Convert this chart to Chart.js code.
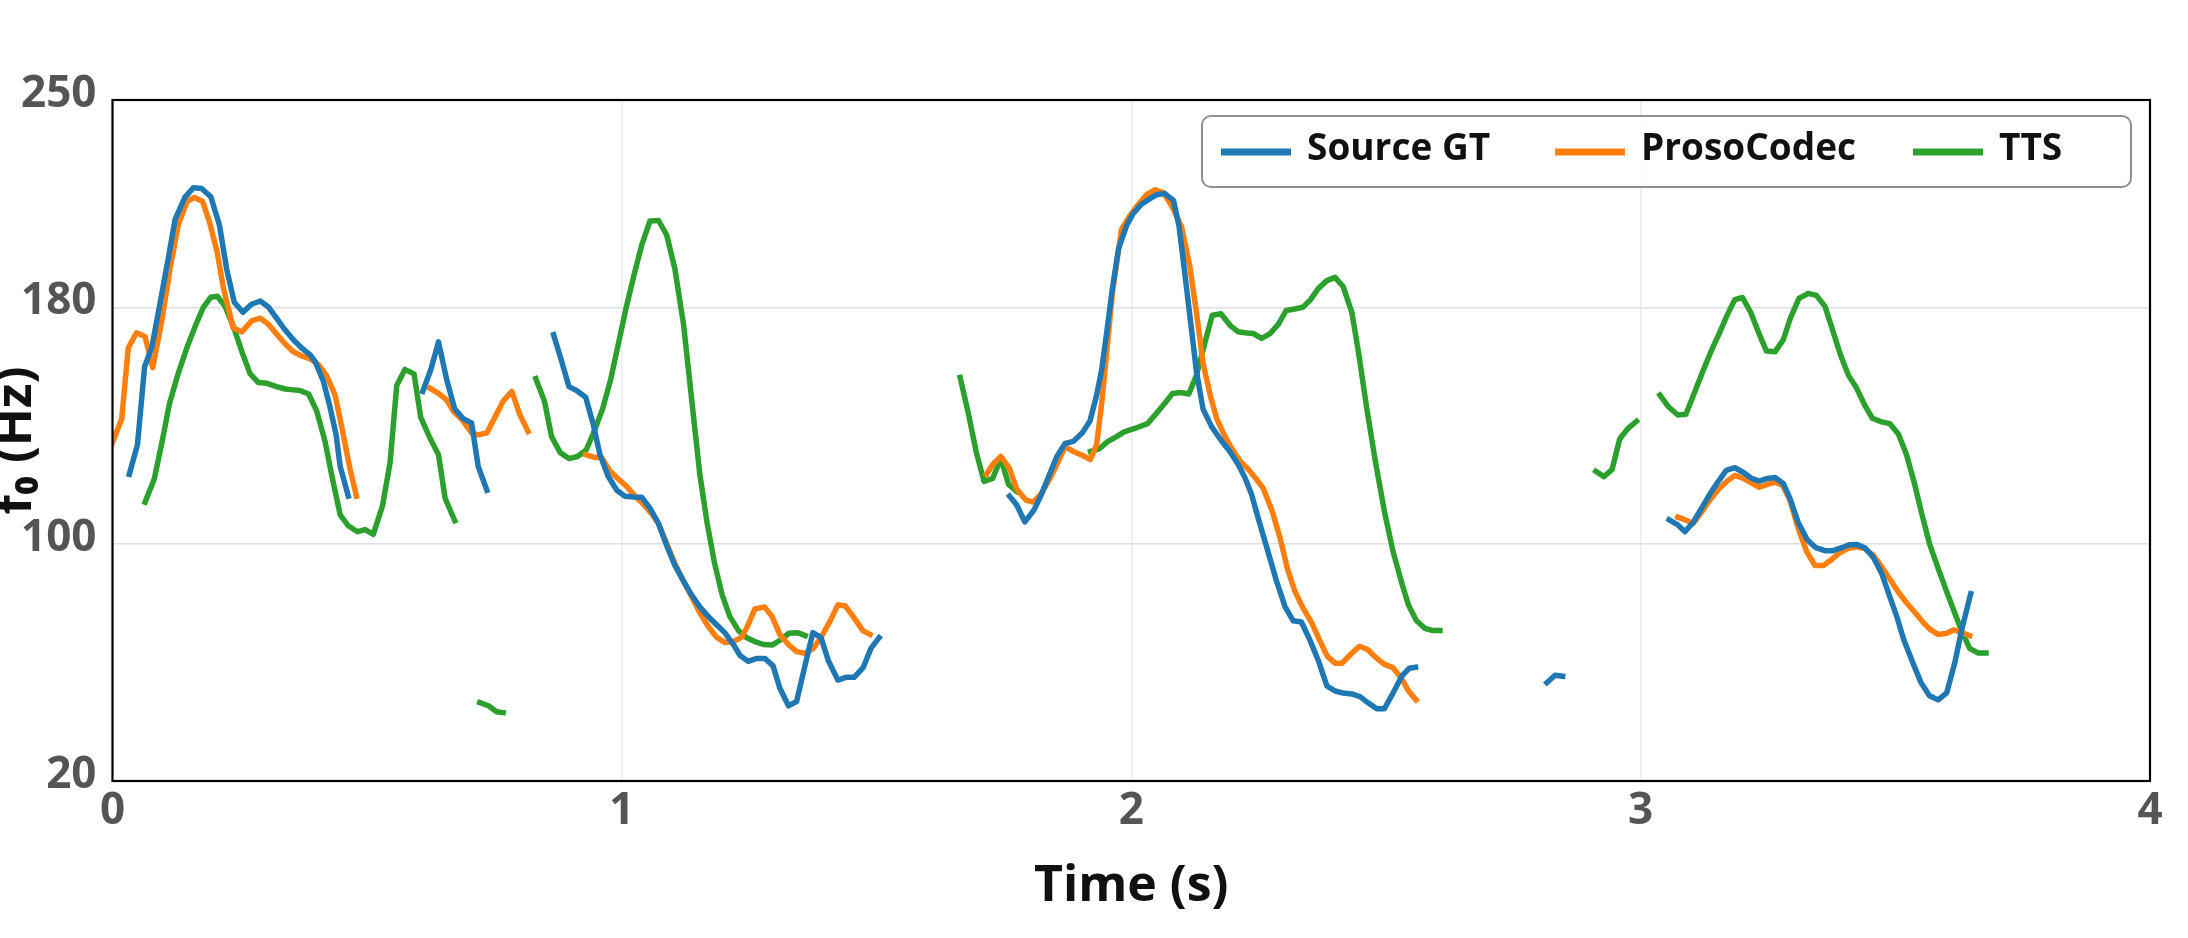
<!DOCTYPE html>
<html>
<head>
<meta charset="utf-8">
<script src="https://cdn.jsdelivr.net/npm/chart.js@4.4.1/dist/chart.umd.min.js"></script>
<style>
    html, body { margin: 0; padding: 0; background: #fff; }
    #wrap { width: 2188px; height: 938px; position: relative; }
</style>
</head>
<body>
<div id="wrap"><canvas id="f0Chart"></canvas></div>
<script>
// Time (s) and f0 (Hz) for each track; a null f0 marks an unvoiced gap
const gtTime = [
    0.033,0.049,0.063,0.077,0.093,0.110,0.123,0.142,0.159,0.175,0.193,0.210,0.224,0.239,0.256,
    0.273,0.290,0.306,0.322,0.339,0.355,0.371,0.388,0.398,0.414,0.427,0.439,0.447,0.463,
    0.54,
    0.609,0.625,0.640,0.656,0.672,0.689,0.705,0.718,0.735,
    0.80,
    0.866,0.882,0.896,0.911,0.929,0.944,0.957,0.973,0.990,1.006,1.023,1.039,1.055,1.072,1.088,
    1.104,1.121,1.137,1.153,1.170,1.186,1.202,1.219,1.232,1.248,1.265,1.281,1.297,1.310,1.327,
    1.343,1.360,1.375,1.391,1.405,1.424,1.440,1.456,1.474,1.489,1.505,
    1.60,
    1.761,1.775,1.791,1.809,1.824,1.838,1.854,1.870,1.886,1.904,1.919,1.932,1.942,1.952,1.963,
    1.975,1.991,2.004,2.020,2.037,2.051,2.066,2.083,2.094,2.105,2.117,2.128,2.141,2.158,2.177,
    2.194,2.210,2.223,2.236,2.249,2.266,2.284,2.302,2.318,2.334,2.351,2.367,2.384,2.400,2.416,
    2.433,2.449,2.465,2.482,2.497,2.513,2.531,2.546,2.558,
    2.70,
    2.816,2.832,2.847,
    2.95,
    3.056,3.073,3.087,3.103,3.120,3.136,3.153,3.168,3.185,3.202,3.218,3.233,3.249,3.264,3.280,
    3.293,3.309,3.327,3.344,3.362,3.378,3.395,3.409,3.424,3.440,3.457,3.473,3.488,3.503,3.517,
    3.534,3.550,3.567,3.584,3.601,3.617,3.630,3.648
];
const gtF0 = [
    123.6,133.6,159.9,166.3,181.0,197.0,209.7,217.1,220.4,220.1,217.3,207.7,193.0,181.7,178.3,
    181.0,182.1,180.1,176.3,172.3,169.0,166.3,163.9,161.6,155.0,146.3,136.9,126.2,116.2,
    null,
    151.6,159.0,168.3,155.6,145.6,142.3,140.9,126.2,118.2,
    null,
    170.7,161.6,153.2,151.9,149.6,140.3,130.2,122.9,118.2,116.2,115.9,115.8,112.2,106.9,99.5,
    92.8,87.5,82.8,78.8,75.5,72.8,70.1,66.1,62.4,60.4,61.4,61.4,58.8,51.4,45.4,
    46.8,59.4,70.1,68.4,60.8,54.1,55.0,55.0,58.4,64.8,68.4,
    null,
    116.2,113.3,107.5,111.5,116.9,122.9,129.6,134.0,134.7,137.6,141.6,150.3,159.0,171.7,186.3,
    199.7,207.7,211.7,214.8,216.7,218.1,218.4,216.1,207.1,191.7,174.3,158.3,145.6,139.6,134.9,
    131.2,126.9,122.5,116.9,108.9,98.9,88.2,78.8,74.1,73.7,67.5,60.8,52.1,50.4,49.7,
    49.4,48.5,46.4,44.4,44.4,49.4,55.4,58.1,58.4,
    null,
    53.2,55.7,55.4,
    null,
    108.2,106.5,104.2,107.3,112.2,116.9,121.3,124.9,125.8,124.2,122.2,121.3,122.2,122.5,120.5,
    115.5,107.5,101.5,98.8,97.8,97.8,98.8,99.8,99.9,98.8,95.5,90.2,82.8,75.5,67.5,
    60.1,53.4,48.8,47.4,49.8,60.1,70.8,83.2
];

const codecTime = [
    0.000,0.018,0.031,0.047,0.064,0.079,0.097,0.113,0.129,0.146,0.161,0.177,0.191,0.205,0.218,
    0.237,0.254,0.273,0.290,0.306,0.322,0.339,0.355,0.371,0.388,0.404,0.420,0.437,0.450,0.466,0.479,
    0.55,
    0.623,0.640,0.656,0.669,0.685,0.705,0.718,0.735,0.751,0.767,0.784,0.800,0.816,
    0.87,
    0.929,0.946,0.960,0.977,0.993,1.009,1.026,1.042,1.059,1.072,1.088,1.104,1.121,1.137,1.153,
    1.170,1.186,1.202,1.219,1.235,1.248,1.261,1.280,1.295,1.310,1.327,1.343,1.360,1.376,1.392,
    1.409,1.424,1.439,1.456,1.473,1.487,
    1.60,
    1.716,1.728,1.744,1.761,1.775,1.793,1.808,1.824,1.840,1.855,1.870,1.886,1.904,1.920,1.932,
    1.942,1.952,1.963,1.981,1.998,2.014,2.030,2.047,2.063,2.079,2.099,2.115,2.128,2.141,2.155,
    2.168,2.184,2.200,2.213,2.230,2.243,2.259,2.276,2.292,2.307,2.321,2.336,2.354,2.370,2.385,
    2.400,2.414,2.431,2.448,2.464,2.480,2.497,2.513,2.530,2.544,2.559,
    2.80,
    3.073,3.088,3.103,3.120,3.136,3.153,3.169,3.185,3.202,3.218,3.233,3.249,3.264,3.279,3.293,
    3.309,3.326,3.342,3.359,3.375,3.391,3.408,3.424,3.440,3.457,3.473,3.489,3.506,3.522,3.539,
    3.555,3.569,3.584,3.601,3.615,3.630,3.646
];
const codecF0 = [
    134.3,142.3,166.3,171.4,170.1,159.6,175.7,193.0,207.7,215.7,217.1,215.7,208.4,199.0,186.3,
    173.0,171.7,175.4,176.3,174.3,171.0,167.6,165.0,163.6,162.6,160.7,157.0,150.3,139.6,125.6,116.2,
    null,
    152.7,150.9,148.7,144.9,142.3,137.6,136.9,137.6,142.9,148.3,151.6,143.6,138.0,
    null,
    130.2,129.3,129.3,124.6,122.0,119.6,116.2,113.5,110.2,106.9,100.2,93.5,87.5,82.2,76.8,
    72.1,68.5,66.8,67.1,68.5,72.8,78.1,78.8,75.5,69.5,66.1,63.7,63.1,64.8,68.8,
    74.1,79.5,79.1,75.1,70.8,69.5,
    null,
    123.6,126.9,129.6,125.6,118.6,114.9,114.2,117.2,122.0,127.2,132.9,131.3,130.0,128.6,133.6,
    147.6,165.0,185.0,206.4,211.1,214.8,218.0,219.7,218.7,214.4,207.1,193.7,178.3,161.0,150.3,
    142.3,136.3,131.6,128.2,125.2,122.5,118.9,111.5,102.2,91.5,84.2,78.8,73.5,67.5,62.1,
    59.8,59.8,62.8,65.5,64.4,61.7,59.4,58.4,54.8,50.5,47.4,
    null,
    109.1,108.2,106.9,110.9,114.9,118.5,121.2,123.2,122.2,120.6,119.2,120.2,120.9,119.8,114.9,
    105.5,97.5,92.8,92.8,94.8,97.1,98.6,99.1,98.5,96.2,92.4,88.2,83.8,80.2,76.8,
    73.5,71.1,69.5,69.9,71.1,70.1,69.1
];

const ttsTime = [
    0.064,0.082,0.097,0.112,0.129,0.146,0.162,0.178,0.193,0.206,0.221,0.237,0.254,0.270,0.286,
    0.303,0.322,0.339,0.355,0.368,0.385,0.401,0.417,0.430,0.447,0.463,0.481,0.496,0.512,0.530,
    0.545,0.558,0.574,0.592,0.605,0.622,0.640,0.653,0.672,
    0.70,
    0.721,0.738,0.754,0.767,
    0.80,
    0.831,0.848,0.862,0.879,0.896,0.913,0.930,0.946,0.962,0.978,0.993,1.009,1.025,1.039,1.055,
    1.072,1.088,1.104,1.121,1.137,1.153,1.167,1.182,1.197,1.212,1.229,1.245,1.261,1.278,1.295,
    1.312,1.328,1.345,1.360,
    1.50,
    1.664,1.680,1.696,1.711,1.728,1.744,1.759,1.775,
    1.85,
    1.920,1.937,1.953,1.971,1.986,2.004,2.032,2.050,2.066,2.081,2.097,2.113,2.128,2.143,2.159,
    2.176,2.194,2.210,2.227,2.240,2.256,2.272,2.289,2.304,2.321,2.338,2.352,2.367,2.384,2.400,
    2.416,2.433,2.446,2.462,2.479,2.498,2.514,2.530,2.544,2.560,2.577,2.593,2.606,
    2.80,
    2.912,2.928,2.944,2.959,2.976,2.992,
    3.02,
    3.038,3.054,3.073,3.089,3.105,3.122,3.138,3.154,3.169,3.185,3.200,3.216,3.231,3.247,3.264,
    3.280,3.294,3.311,3.329,3.345,3.362,3.378,3.393,3.408,3.424,3.440,3.455,3.473,3.489,3.506,
    3.522,3.537,3.552,3.567,3.582,3.599,3.615,3.630,3.646,3.663,3.678
];
const ttsF0 = [
    114.2,122.0,134.3,147.6,157.6,166.3,173.4,179.9,183.4,183.7,180.3,173.7,165.0,157.6,154.6,
    154.3,153.2,152.4,152.1,151.9,150.7,144.9,134.9,123.6,109.9,106.2,104.2,104.9,103.3,112.9,
    127.6,153.6,159.0,157.5,142.9,136.3,130.2,115.5,107.9,
    null,
    46.5,45.4,43.4,43.1,
    null,
    155.9,148.3,136.3,130.9,128.9,129.6,131.8,138.3,145.6,155.6,167.6,180.3,191.7,201.0,209.1,
    209.3,204.4,193.0,174.3,148.9,123.6,107.5,93.5,82.8,75.5,70.8,68.4,67.1,66.1,65.9,
    67.7,69.9,70.1,69.1,
    null,
    156.3,144.3,130.9,121.2,122.2,128.9,120.2,117.8,
    null,
    131.3,132.2,134.5,136.3,137.9,138.9,140.7,144.3,147.6,150.9,151.2,150.7,157.0,167.0,177.3,
    177.8,173.9,171.7,171.3,171.1,169.5,171.0,174.3,178.9,179.4,180.1,182.6,186.3,189.0,190.1,
    187.0,178.3,165.0,146.3,128.2,110.2,97.5,87.5,79.5,74.1,71.5,70.8,70.8,
    null,
    124.6,122.8,125.2,135.6,139.2,141.5,
    null,
    150.3,146.5,143.6,143.9,150.9,158.3,165.0,171.0,177.0,182.6,183.3,178.3,171.7,165.2,165.0,
    169.0,176.3,183.0,184.7,184.0,180.3,171.7,163.6,157.0,152.7,146.9,142.5,141.3,140.7,137.2,
    130.2,120.9,110.2,100.2,92.8,84.8,77.5,70.8,64.8,63.2,63.2
];

const seriesLabels = ['Source GT', 'ProsoCodec', 'TTS'];
const xTicks = [0, 1, 2, 3, 4];
const yTicks = [20, 100, 180, 250];

const colors = ['#1f77b4', '#ff7f0e', '#2ca02c'];

function toPoints(times, values) {
    return times.map((t, i) => ({ x: t, y: values[i] }));
}

// Plot frame and the boxed legend inside the top-right corner
const frameAndLegend = {
    id: 'frameAndLegend',
    afterDraw(chart) {
        const { ctx, chartArea } = chart;
        ctx.save();
        ctx.strokeStyle = '#000';
        ctx.lineWidth = 2.2;
        ctx.strokeRect(chartArea.left, chartArea.top, chartArea.width, chartArea.height);

        const w = 929, h = 71;
        const x0 = chartArea.right - 19 - w;
        const y0 = chartArea.top + 16;
        ctx.beginPath();
        ctx.roundRect(x0, y0, w, h, 9);
        ctx.fillStyle = 'rgba(255,255,255,0.85)';
        ctx.fill();
        ctx.strokeStyle = '#8f8f8f';
        ctx.lineWidth = 2;
        ctx.stroke();

        const offsets = [19, 353, 711];
        ctx.font = 'bold 37px "Open Sans"';
        ctx.textBaseline = 'alphabetic';
        ctx.textAlign = 'left';
        chart.data.datasets.forEach((ds, i) => {
            const lx = x0 + offsets[i];
            ctx.strokeStyle = ds.borderColor;
            ctx.lineWidth = 7;
            ctx.lineCap = 'butt';
            ctx.beginPath();
            ctx.moveTo(lx, y0 + 36);
            ctx.lineTo(lx + 70, y0 + 36);
            ctx.stroke();
            ctx.fillStyle = '#111';
            ctx.fillText(ds.label, lx + 86, y0 + 44);
        });
        ctx.restore();
    }
};

Chart.defaults.font.family = "'Open Sans', sans-serif";

const ctx = document.getElementById('f0Chart').getContext('2d');
new Chart(ctx, {
    type: 'line',
    data: {
        datasets: [
            { label: seriesLabels[0], data: toPoints(gtTime, gtF0), borderColor: colors[0] },
            { label: seriesLabels[1], data: toPoints(codecTime, codecF0), borderColor: colors[1] },
            { label: seriesLabels[2], data: toPoints(ttsTime, ttsF0), borderColor: colors[2] }
        ]
    },
    options: {
        responsive: true,
        maintainAspectRatio: false,
        animation: false,
        spanGaps: false,
        layout: { padding: { left: 0, right: 38, top: 100, bottom: 0 } },
        elements: {
            line: { borderWidth: 5.5, tension: 0, borderJoinStyle: 'round', borderCapStyle: 'square', fill: false },
            point: { radius: 0, hoverRadius: 0 }
        },
        scales: {
            x: {
                type: 'linear',
                min: 0,
                max: 4,
                afterBuildTicks: s => { s.ticks = xTicks.map(v => ({ value: v })); },
                afterFit: s => { s.height = 157; },
                grid: { color: '#ececec', lineWidth: 1.5, drawTicks: false },
                border: { display: false },
                ticks: { color: '#555', font: { size: 44, weight: 'bold' }, padding: 4, maxRotation: 0, autoSkip: false },
                title: {
                    display: true,
                    text: 'Time (s)',
                    color: '#111',
                    font: { size: 50, weight: 'bold', lineHeight: 1.2 },
                    padding: { top: 0, bottom: 21 }
                }
            },
            y: {
                type: 'linear',
                min: 20,
                max: 250,
                afterBuildTicks: s => { s.ticks = yTicks.map(v => ({ value: v })); },
                afterFit: s => { s.width = 112.5; },
                grid: { color: '#e0e0e0', lineWidth: 1.5, drawTicks: false },
                border: { display: false },
                ticks: { color: '#555', font: { size: 44, weight: 'bold' }, padding: 16, labelOffset: -6, autoSkip: false },
                title: {
                    display: true,
                    text: 'f₀ (Hz)',
                    color: '#111',
                    font: { size: 50, weight: 'bold', lineHeight: 0.65 },
                    padding: 0
                }
            }
        },
        plugins: {
            legend: { display: false },
            tooltip: { enabled: false }
        }
    },
    plugins: [frameAndLegend]
});
</script>
</body>
</html>
